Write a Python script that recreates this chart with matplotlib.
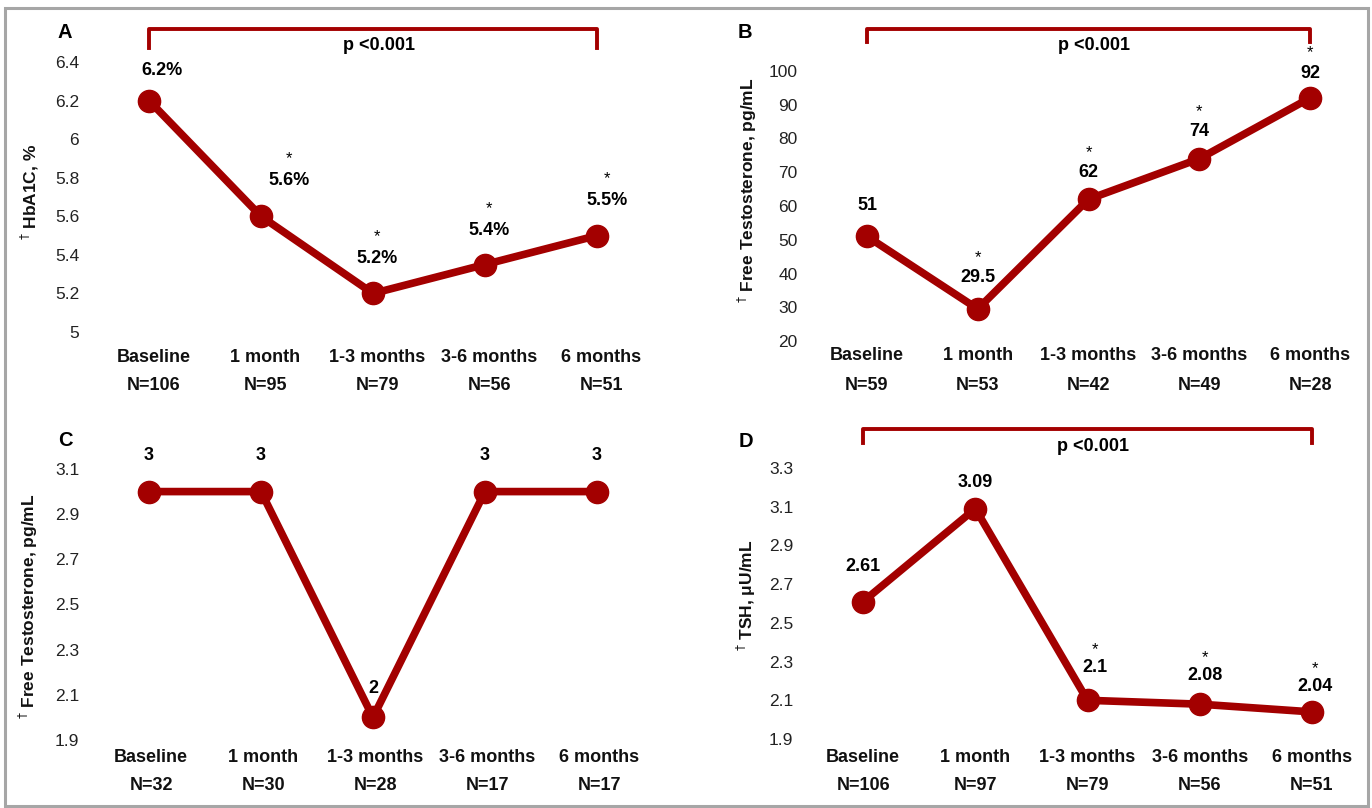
import matplotlib
matplotlib.use("Agg")
import matplotlib.pyplot as plt
import matplotlib.transforms as mtransforms
from matplotlib.patches import Rectangle

plt.rcParams['font.family'] = ['Liberation Sans', 'DejaVu Sans']

W, H = 1372, 808
RED = '#a30000'
TXT = '#111111'

categories = ['Baseline', '1 month', '1-3 months', '3-6 months', '6 months']

# Panel A: HbA1C
hba1c = [6.2, 5.6, 5.2, 5.35, 5.5]
hba1c_labels = ['6.2%', '5.6%', '5.2%', '5.4%', '5.5%']
hba1c_sig = [False, True, True, True, True]
hba1c_n = ['N=106', 'N=95', 'N=79', 'N=56', 'N=51']
hba1c_ticks = [5.0, 5.2, 5.4, 5.6, 5.8, 6.0, 6.2, 6.4]
hba1c_ticklabels = ['5', '5.2', '5.4', '5.6', '5.8', '6', '6.2', '6.4']

# Panel B: Free testosterone
ft_b = [51, 29.5, 62, 74, 92]
ft_b_labels = ['51', '29.5', '62', '74', '92']
ft_b_sig = [False, True, True, True, True]
ft_b_n = ['N=59', 'N=53', 'N=42', 'N=49', 'N=28']
ft_b_ticks = [20, 30, 40, 50, 60, 70, 80, 90, 100]
ft_b_ticklabels = ['20', '30', '40', '50', '60', '70', '80', '90', '100']

# Panel C
ft_c = [3, 3, 2, 3, 3]
ft_c_labels = ['3', '3', '2', '3', '3']
ft_c_sig = [False, False, False, False, False]
ft_c_n = ['N=32', 'N=30', 'N=28', 'N=17', 'N=17']
ft_c_ticks = [1.9, 2.1, 2.3, 2.5, 2.7, 2.9, 3.1]
ft_c_ticklabels = ['1.9', '2.1', '2.3', '2.5', '2.7', '2.9', '3.1']

# Panel D: TSH
tsh = [2.61, 3.09, 2.1, 2.08, 2.04]
tsh_labels = ['2.61', '3.09', '2.1', '2.08', '2.04']
tsh_sig = [False, False, True, True, True]
tsh_n = ['N=106', 'N=97', 'N=79', 'N=56', 'N=51']
tsh_ticks = [1.9, 2.1, 2.3, 2.5, 2.7, 2.9, 3.1, 3.3]
tsh_ticklabels = ['1.9', '2.1', '2.3', '2.5', '2.7', '2.9', '3.1', '3.3']

fig = plt.figure(figsize=(W / 100, H / 100), dpi=100)
fig.patch.set_facecolor('white')

# outer gray frame
fig.add_artist(Rectangle((5 / W, 1 - 806 / H), (1368 - 5) / W, (806 - 8) / H,
                         transform=fig.transFigure, fill=False,
                         edgecolor='#a6a6a6', linewidth=2.2, zorder=0))


def fy(y):
    return 1 - y / H


def fx(x):
    return x / W


def panel(box, values, labels, sig, nlabels, ticks, ticklabels, ylim,
          letter, letter_pos, ylabel, ylabel_pos, cat_y, n_y,
          lab_off, star_gap, cat_dx, bracket=None):
    left, right, top, bottom = box
    ax = fig.add_axes([fx(left), fy(bottom), (right - left) / W, (bottom - top) / H])
    ax.set_xlim(-0.5, 4.5)
    ax.set_ylim(*ylim)
    for s in ax.spines.values():
        s.set_visible(False)
    ax.set_xticks([])
    ax.set_yticks(ticks)
    ax.set_yticklabels(ticklabels, fontsize=12.5, color='#222222')
    ax.tick_params(axis='y', length=0, pad=10)
    ax.patch.set_alpha(0)
    xs = list(range(len(values)))
    ax.plot(xs, values, color=RED, linewidth=5.5, marker='o', markersize=16,
            solid_capstyle='round', solid_joinstyle='round', clip_on=False, zorder=3)
    px2pt = 0.72
    for i, (v, lab, s) in enumerate(zip(values, labels, sig)):
        dx, dy = lab_off[i]
        ax.annotate(lab, xy=(i, v), xytext=(dx * px2pt, dy * px2pt),
                    textcoords='offset points', ha='center', va='center',
                    fontsize=13, fontweight='bold', color='black', zorder=4)
        if s:
            ax.annotate('*', xy=(i, v), xytext=(dx * px2pt, (dy + star_gap) * px2pt),
                        textcoords='offset points', ha='center', va='center',
                        fontsize=12, color='black', zorder=4)
    trans = mtransforms.blended_transform_factory(ax.transData, fig.transFigure)
    for i, (c, n) in enumerate(zip(categories, nlabels)):
        ax.text(i + cat_dx, fy(cat_y), c, transform=trans, ha='center', va='center',
                fontsize=13, fontweight='bold', color=TXT)
        ax.text(i + cat_dx, fy(n_y), n, transform=trans, ha='center', va='center',
                fontsize=13, fontweight='bold', color=TXT)
    fig.text(fx(letter_pos[0]), fy(letter_pos[1]), letter, ha='center', va='center',
             fontsize=14.5, fontweight='bold', color='black')
    fig.text(fx(ylabel_pos[0]), fy(ylabel_pos[1]), ylabel, rotation=90,
             ha='center', va='center', fontsize=12.5, fontweight='bold', color=TXT)
    if bracket is not None:
        yh, yl, ptxt = bracket
        ax.plot([0, 0, 4, 4], [fy(yl), fy(yh), fy(yh), fy(yl)], transform=trans,
                color=RED, linewidth=2.8, clip_on=False, solid_joinstyle='round')
        ax.text(2.05, fy(ptxt), 'p <0.001', transform=trans, ha='center', va='center',
                fontsize=13, fontweight='bold', color='black')
    return ax


panel((93, 653, 62, 332), hba1c, hba1c_labels, hba1c_sig, hba1c_n,
      hba1c_ticks, hba1c_ticklabels, (5.0, 6.4),
      'A', (65, 32), r'$^{\dagger}$ HbA1C, %', (30, 192), 357, 385,
      [(13, 30), (28, 36), (4, 35), (4, 34), (10, 35)], 22, 0.04,
      bracket=(29, 48, 46))

panel((811.6, 1365.4, 71, 341), ft_b, ft_b_labels, ft_b_sig, ft_b_n,
      ft_b_ticks, ft_b_ticklabels, (20, 100),
      'B', (745, 33), r'$^{\dagger}$ Free Testosterone, pg/mL', (747, 190), 356, 386,
      [(0, 31), (0, 31), (0, 27), (0, 27), (0, 25)], 20, 0.0,
      bracket=(29, 42, 46))

panel((93, 653, 469, 740), ft_c, ft_c_labels, ft_c_sig, ft_c_n,
      ft_c_ticks, ft_c_ticklabels, (1.9, 3.1),
      'C', (65, 440), r'$^{\dagger}$ Free Testosterone, pg/mL', (28, 606), 757, 785,
      [(0, 36), (0, 36), (0, 29), (0, 36), (0, 36)], 20, 0.02)

panel((807, 1368, 468, 739), tsh, tsh_labels, tsh_sig, tsh_n,
      tsh_ticks, tsh_ticklabels, (1.9, 3.3),
      'D', (746, 441), r'$^{\dagger}$ TSH, μU/mL', (746, 595), 757, 785,
      [(0, 35), (0, 26), (7, 33), (5, 29), (3, 25)], 18, 0.0,
      bracket=(429, 443, 446))

fig.savefig('out.png', dpi=100, facecolor='white')
